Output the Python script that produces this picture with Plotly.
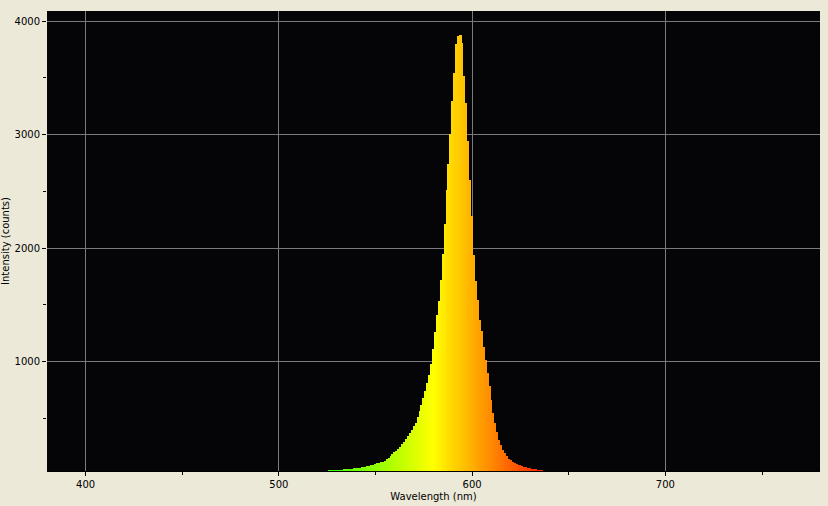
import plotly.graph_objects as go

# emission spectrum (1 nm steps)
wavelength = list(range(525, 641))
intensity = [
    38, 40, 40, 42, 42, 44, 45, 46, 48, 50,          # 525-534
    52, 54, 55, 57, 58, 60, 62, 64, 68, 70,          # 535-544
    73, 77, 80, 85, 90, 96, 102, 106, 110, 114,      # 545-554
    125, 138, 152, 168, 185, 200, 215, 232, 250, 270,  # 555-564
    292, 320, 345, 368, 400, 432, 460, 510, 565, 615,  # 565-574
    680, 740, 810, 880, 980, 1110, 1260, 1410, 1530, 1720,  # 575-584
    1950, 2210, 2510, 2740, 3010, 3300, 3540, 3800, 3870, 3880,  # 585-594
    3810, 3520, 3280, 2940, 2600, 2280, 1940, 1710, 1540, 1370,  # 595-604
    1270, 1130, 1010, 900, 780, 660, 550, 455, 380, 310,  # 605-614
    260, 220, 190, 165, 145, 128, 116, 105, 97, 90,  # 615-624
    84, 78, 74, 70, 65, 60, 56, 52, 49, 46,          # 625-634
    43, 41, 39, 37, 36, 35,                          # 635-640
]

# scattered noise counts just above the baseline
noise_wl = [444, 447, 449, 451, 453, 457, 463, 505, 511, 516, 520]
noise_int = [38, 38, 38, 38, 38, 38, 38, 38, 38, 39, 39]

x_ticks = [400, 500, 600, 700]
y_ticks = [1000, 2000, 3000, 4000]


def wl_color(wl):
    # approximate visible colour of a wavelength
    if wl < 440:
        r, g, b = (440 - wl) / 60, 0, 1
    elif wl < 490:
        r, g, b = 0, (wl - 440) / 50, 1
    elif wl < 510:
        r, g, b = 0, 1, (510 - wl) / 20
    elif wl < 580:
        r, g, b = (wl - 510) / 70, 1, 0
    elif wl < 645:
        r, g, b = 1, (645 - wl) / 65, 0
    else:
        r, g, b = 1, 0, 0
    return "rgb(%d,%d,%d)" % (r * 255, g * 255, b * 255)


all_wl = noise_wl + wavelength
all_int = noise_int + intensity

fig = go.Figure()
fig.add_trace(go.Bar(x=all_wl, y=all_int, width=1,
                     marker=dict(color=[wl_color(w) for w in all_wl], line=dict(width=0)),
                     hoverinfo="x+y"))

fig.update_layout(
    width=828, height=506,
    paper_bgcolor="#ECE9D8", plot_bgcolor="#050407",
    margin=dict(l=47, r=8, t=11, b=35),
    bargap=0, showlegend=False,
    font=dict(family="DejaVu Sans, Tahoma, sans-serif", size=10, color="#000000"),
    xaxis=dict(range=[380, 780], tickvals=x_ticks, ticks="outside", ticklen=4,
               tickcolor="#000000", showgrid=True, gridcolor="#7a7a7a", gridwidth=1,
               zeroline=False, showline=True, linecolor="#000000", linewidth=1,
               automargin=False,
               minor=dict(ticks="outside", ticklen=3, dtick=50, tick0=0,
                          tickcolor="#000000", showgrid=False),
               title=dict(text="Wavelength (nm)", standoff=3, font=dict(size=10))),
    yaxis=dict(range=[35, 4090], tickvals=y_ticks, ticks="outside", ticklen=4,
               tickcolor="#000000", showgrid=True, gridcolor="#7a7a7a", gridwidth=1,
               zeroline=False, showline=False, automargin=False,
               minor=dict(ticks="outside", ticklen=3, dtick=500, tick0=0,
                          tickcolor="#000000", showgrid=False),
               title=dict(text="Intensity (counts)", standoff=6, font=dict(size=10))),
)

# the page body has a default 8px margin; drop it so the figure fills the window
fig.write_html("out.html", config={"displayModeBar": False},
               post_script="document.body.style.margin='0';"
                           "document.body.style.background='#ECE9D8';")
